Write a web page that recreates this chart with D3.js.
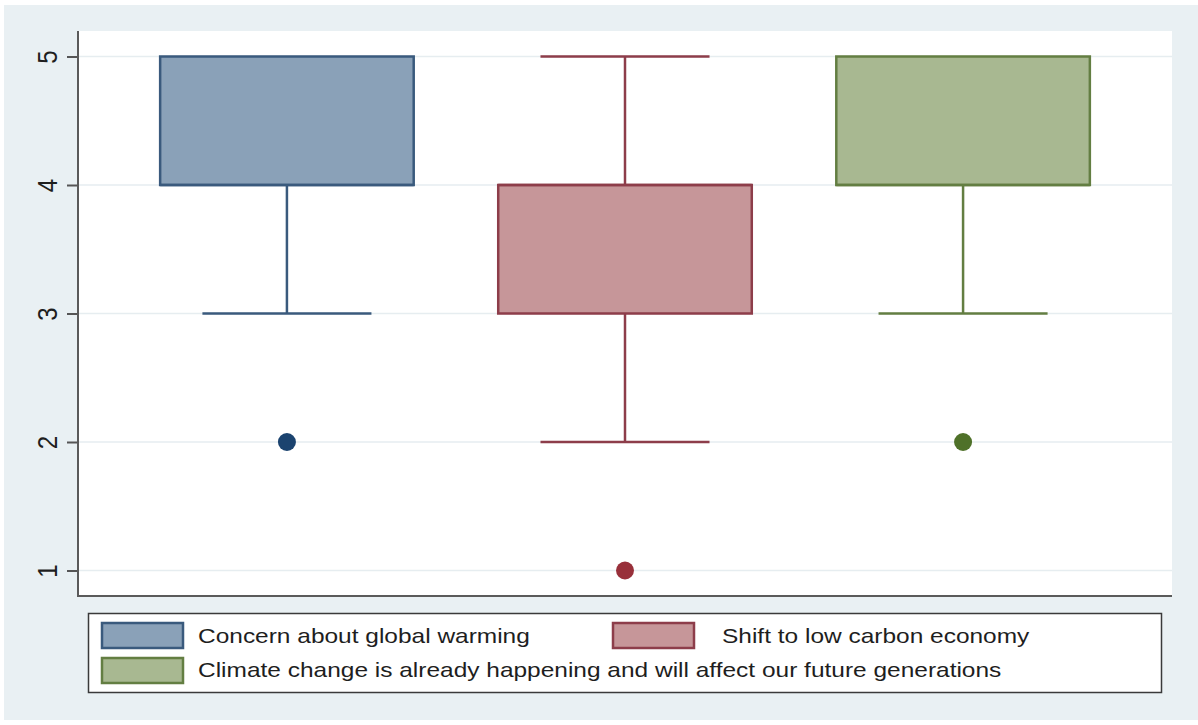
<!DOCTYPE html>
<html>
<head>
<meta charset="utf-8">
<script src="https://cdn.jsdelivr.net/npm/d3@7"></script>
<style>
  html, body { margin: 0; padding: 0; background: #ffffff; }
  svg { display: block; }
  text { font-family: "Liberation Sans", Arial, sans-serif; fill: #1e1e1e; }
</style>
</head>
<body>
<svg id="chart" width="1198" height="725"></svg>
<script>
// Survey items (Likert 1-5) and their box-plot summaries
const categories = [
  "Concern about global warming",
  "Shift to low carbon economy",
  "Climate change is already happening and will affect our future generations"
];
const lowerWhisker = [3, 2, 3];
const quartile1   = [4, 3, 4];
const medians     = [4, 4, 4];
const quartile3   = [5, 4, 5];
const upperWhisker = [5, 5, 5];
const outliers    = [[2], [1], [2]];
const yTicks      = [1, 2, 3, 4, 5];

const fills   = ["#8aa1b8", "#c69699", "#a8b891"];
const strokes = ["#3a5a7d", "#8d3d4a", "#637e42"];
const dots    = ["#1b436f", "#98303a", "#4f7129"];

const W = 1198, H = 725;
const plot = { left: 78, right: 1172, top: 31, bottom: 596 };
const stretch = 1.165;   // horizontal text stretch

const svg = d3.select("#chart");

// page background and plot region
svg.append("rect").attr("x", 0).attr("y", 0).attr("width", W).attr("height", H).attr("fill", "#ffffff");
svg.append("rect").attr("x", 4).attr("y", 5).attr("width", W - 4).attr("height", H - 10).attr("fill", "#e9f0f3");
svg.append("rect").attr("x", plot.left).attr("y", plot.top)
  .attr("width", plot.right - plot.left).attr("height", plot.bottom - plot.top).attr("fill", "#ffffff");

const y = d3.scaleLinear().domain([1, 5]).range([570.5, 56.5]);
const x = d3.scalePoint().domain(categories).range([plot.left, plot.right]).padding(0.618);
const step = x.step();
const boxW = step * 0.75;
const capW = step * 0.5;

// gridlines
svg.append("g").selectAll("line").data(yTicks).join("line")
  .attr("x1", plot.left).attr("x2", plot.right)
  .attr("y1", d => y(d)).attr("y2", d => y(d))
  .attr("stroke", "#e6edf0").attr("stroke-width", 1.5);

// y axis
const yAxis = svg.append("g").attr("transform", `translate(${plot.left},0)`)
  .call(d3.axisLeft(y).tickValues(yTicks).tickFormat(d3.format("d")).tickSize(11).tickSizeOuter(0));
yAxis.select(".domain").remove();
yAxis.selectAll(".tick line").attr("stroke", "#555").attr("stroke-width", 2);
yAxis.selectAll(".tick text")
  .attr("x", null).attr("dy", null)
  .attr("text-anchor", "middle")
  .attr("font-size", 24)
  .attr("fill", "#1e1e1e")
  .attr("transform", `translate(-21,0) scale(${stretch},1) rotate(-90)`);

// axis lines
svg.append("line").attr("x1", plot.left).attr("x2", plot.left)
  .attr("y1", plot.top).attr("y2", plot.bottom + 1)
  .attr("stroke", "#5a5a5a").attr("stroke-width", 2);
svg.append("line").attr("x1", plot.left).attr("x2", plot.right)
  .attr("y1", plot.bottom).attr("y2", plot.bottom)
  .attr("stroke", "#5a5a5a").attr("stroke-width", 2);

// boxes
const idx = d3.range(categories.length);
const g = svg.append("g").selectAll("g").data(idx).join("g");

// lower whisker + cap
g.append("line")
  .attr("x1", i => x(categories[i])).attr("x2", i => x(categories[i]))
  .attr("y1", i => y(quartile1[i])).attr("y2", i => y(lowerWhisker[i]))
  .attr("stroke", i => strokes[i]).attr("stroke-width", 2.5);
g.filter(i => lowerWhisker[i] < quartile1[i]).append("line")
  .attr("x1", i => x(categories[i]) - capW / 2).attr("x2", i => x(categories[i]) + capW / 2)
  .attr("y1", i => y(lowerWhisker[i])).attr("y2", i => y(lowerWhisker[i]))
  .attr("stroke", i => strokes[i]).attr("stroke-width", 2.5);

// upper whisker + cap
g.append("line")
  .attr("x1", i => x(categories[i])).attr("x2", i => x(categories[i]))
  .attr("y1", i => y(quartile3[i])).attr("y2", i => y(upperWhisker[i]))
  .attr("stroke", i => strokes[i]).attr("stroke-width", 2.5);
g.filter(i => upperWhisker[i] > quartile3[i]).append("line")
  .attr("x1", i => x(categories[i]) - capW / 2).attr("x2", i => x(categories[i]) + capW / 2)
  .attr("y1", i => y(upperWhisker[i])).attr("y2", i => y(upperWhisker[i]))
  .attr("stroke", i => strokes[i]).attr("stroke-width", 2.5);

// interquartile box
g.append("rect")
  .attr("x", i => x(categories[i]) - boxW / 2)
  .attr("y", i => y(quartile3[i]))
  .attr("width", boxW)
  .attr("height", i => y(quartile1[i]) - y(quartile3[i]))
  .attr("fill", i => fills[i]).attr("stroke", i => strokes[i]).attr("stroke-width", 2.5);

// median
g.append("line")
  .attr("x1", i => x(categories[i]) - boxW / 2).attr("x2", i => x(categories[i]) + boxW / 2)
  .attr("y1", i => y(medians[i])).attr("y2", i => y(medians[i]))
  .attr("stroke", i => strokes[i]).attr("stroke-width", 2.5);

// outside values
g.selectAll("circle").data(i => outliers[i].map(v => ({ i, v }))).join("circle")
  .attr("cx", d => x(categories[d.i])).attr("cy", d => y(d.v))
  .attr("r", 9).attr("fill", d => dots[d.i]);

// legend
const legend = svg.append("g");
legend.append("rect").attr("x", 88.5).attr("y", 613.5).attr("width", 1073).attr("height", 79)
  .attr("fill", "#ffffff").attr("stroke", "#3a3a3a").attr("stroke-width", 1.5);

const legendPos = [
  { kx: 102, ky: 623, tx: 198, ty: 643 },
  { kx: 613, ky: 623, tx: 722, ty: 643 },
  { kx: 102, ky: 658, tx: 198, ty: 677 }
];
legendPos.forEach((p, i) => {
  legend.append("rect").attr("x", p.kx).attr("y", p.ky).attr("width", 81).attr("height", 25)
    .attr("fill", fills[i]).attr("stroke", strokes[i]).attr("stroke-width", 2.5);
  const t = legend.append("text").attr("x", p.tx).attr("y", p.ty)
    .attr("font-size", 21).text(categories[i]);
  const len = t.node().getComputedTextLength();
  t.attr("textLength", len * stretch).attr("lengthAdjust", "spacingAndGlyphs");
});
</script>
</body>
</html>
